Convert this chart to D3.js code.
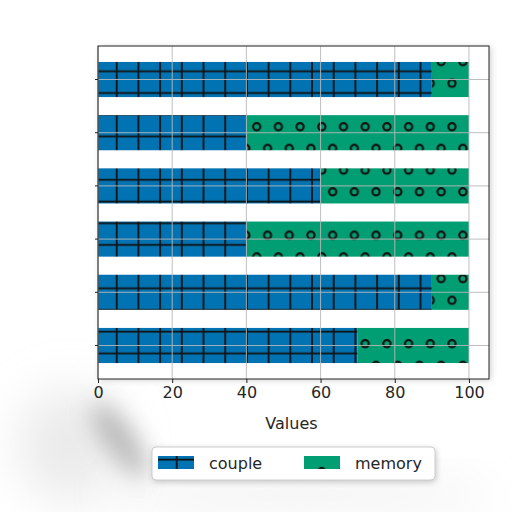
<!DOCTYPE html>
<html>
<head>
<meta charset="utf-8">
<script src="https://cdn.jsdelivr.net/npm/d3@7"></script>
<style>
  body { margin: 0; background: #fff; }
  svg { display: block; font-family: "DejaVu Sans", sans-serif; }
</style>
</head>
<body>
<div id="chart"></div>
<script>
// data, listed top to bottom as drawn
var categories = ["r1", "r2", "r3", "r4", "r5", "r6"];
var yTickLabels = ["", "", "", "", "", ""];
var couple = [90, 40, 60, 40, 90, 70];
var memory = [10, 60, 40, 60, 10, 30];
var seriesNames = ["couple", "memory"];
var xTicks = [0, 20, 40, 60, 80, 100];

var svgWidth = 512, svgHeight = 512;
var margin = {top: 46, right: 23, bottom: 133, left: 98};
var width = svgWidth - margin.left - margin.right;
var height = svgHeight - margin.top - margin.bottom;

var colour = d3.scaleOrdinal().domain(seriesNames).range(["#0173B2", "#029E73"]);

var svg = d3.select("#chart").append("svg")
    .attr("width", svgWidth).attr("height", svgHeight);

var defs = svg.append("defs");

// soft smudges / shadows seen in the picture
var blur = defs.append("filter").attr("id", "blur")
    .attr("x", "-80%").attr("y", "-80%").attr("width", "260%").attr("height", "260%");
blur.append("feGaussianBlur").attr("stdDeviation", 12);
var blurWide = defs.append("filter").attr("id", "blurWide")
    .attr("x", "-80%").attr("y", "-80%").attr("width", "260%").attr("height", "260%");
blurWide.append("feGaussianBlur").attr("stdDeviation", 25);
var blurSmall = defs.append("filter").attr("id", "blurSmall")
    .attr("x", "-20%").attr("y", "-50%").attr("width", "140%").attr("height", "200%");
blurSmall.append("feGaussianBlur").attr("stdDeviation", 3);

svg.append("ellipse").attr("cx", 70).attr("cy", 445).attr("rx", 50).attr("ry", 55)
    .attr("fill", "#d4d4d4").attr("opacity", 0.5).attr("filter", "url(#blurWide)");
svg.append("ellipse").attr("cx", 300).attr("cy", 495).attr("rx", 200).attr("ry", 14)
    .attr("fill", "#d8d8d8").attr("opacity", 0.45).attr("filter", "url(#blurWide)");
svg.append("ellipse")
    .attr("transform", "translate(120 440) rotate(55)")
    .attr("rx", 45).attr("ry", 14)
    .attr("fill", "#8a8a8a").attr("opacity", 0.6).attr("filter", "url(#blur)");

// hatch patterns (coordinates in the plot group's space)
var step = 21.7;
var plus = defs.append("pattern").attr("id", "hatch-couple")
    .attr("patternUnits", "userSpaceOnUse")
    .attr("width", step).attr("height", step);
plus.append("rect").attr("width", step).attr("height", step).attr("fill", colour("couple"));
plus.append("line").attr("x1", 18.7).attr("x2", 18.7).attr("y1", 0).attr("y2", step)
    .attr("stroke", "#111").attr("stroke-width", 1.8);
plus.append("line").attr("x1", 0).attr("x2", step).attr("y1", 3.6).attr("y2", 3.6)
    .attr("stroke", "#111").attr("stroke-width", 1.8);

var ring = defs.append("pattern").attr("id", "hatch-memory")
    .attr("patternUnits", "userSpaceOnUse")
    .attr("width", step).attr("height", step * 2);
ring.append("rect").attr("width", step).attr("height", step * 2).attr("fill", colour("memory"));
[[6.8, 37.3], [17.65, 15.6]].forEach(function(p) {
    [-step, 0, step].forEach(function(dx) {
        [-2 * step, 0, 2 * step].forEach(function(dy) {
            ring.append("circle").attr("cx", p[0] + dx).attr("cy", p[1] + dy).attr("r", 3.6)
                .attr("fill", "none").attr("stroke", "#111").attr("stroke-width", 2.2);
        });
    });
});

// axes shadow
svg.append("rect")
    .attr("x", margin.left + 2).attr("y", margin.top + 1)
    .attr("width", width).attr("height", height)
    .attr("fill", "#bbb").attr("filter", "url(#blurSmall)").attr("opacity", 0.7);

var g = svg.append("g")
    .attr("transform", "translate(" + margin.left + " " + margin.top + ")");

g.append("rect").attr("width", width).attr("height", height).attr("fill", "#fff");

// scales
var x = d3.scaleLinear().domain([0, 105.4]).range([0, width]);
var y = d3.scaleBand().domain(categories).range([0, height])
    .paddingInner(0.34).paddingOuter(0.3);

// stacked bars
var rows = categories.map(function(c, i) {
    return {cat: c, couple: couple[i], memory: memory[i]};
});
var stacked = d3.stack().keys(seriesNames)(rows);

g.append("g").selectAll("g")
    .data(stacked)
    .enter().append("g")
        .attr("fill", function(d) { return "url(#hatch-" + d.key + ")"; })
        .selectAll("rect")
        .data(function(d) { return d; })
        .enter().append("rect")
            .attr("x", function(d) { return x(d[0]); })
            .attr("y", function(d) { return y(d.data.cat); })
            .attr("width", function(d) { return x(d[1]) - x(d[0]); })
            .attr("height", y.bandwidth());

// grid on top of bars
var grid = g.append("g").attr("stroke", "#b8b8b8").attr("stroke-width", 1).attr("opacity", 0.9);
grid.selectAll(".vg").data(xTicks).enter().append("line")
    .attr("x1", function(d) { return x(d); }).attr("x2", function(d) { return x(d); })
    .attr("y1", 0).attr("y2", height);
grid.selectAll(".hg").data(categories).enter().append("line")
    .attr("x1", 0).attr("x2", width)
    .attr("y1", function(d) { return y(d) + y.bandwidth() / 2; })
    .attr("y2", function(d) { return y(d) + y.bandwidth() / 2; });

// frame
g.append("rect").attr("width", width).attr("height", height)
    .attr("fill", "none").attr("stroke", "#222").attr("stroke-width", 1);

// axes
var xAxis = g.append("g")
    .attr("transform", "translate(0 " + height + ")")
    .call(d3.axisBottom(x).tickValues(xTicks).tickSize(4).tickPadding(4));
var yAxis = g.append("g")
    .call(d3.axisLeft(y).tickFormat(function(d, i) { return yTickLabels[i]; }).tickSize(3));
[xAxis, yAxis].forEach(function(a) {
    a.select(".domain").remove();
    a.selectAll("line").attr("stroke", "#222");
    a.selectAll("text").attr("font-size", "16px").attr("fill", "#262626")
        .attr("font-family", "DejaVu Sans, sans-serif");
});

g.append("text")
    .attr("x", width / 2 - 2).attr("y", height + 50)
    .attr("text-anchor", "middle")
    .attr("font-size", "16px").attr("fill", "#262626")
    .text("Values");

// legend
var legend = svg.append("g").attr("transform", "translate(152 447)");
legend.append("rect").attr("x", 1).attr("y", 2).attr("width", 283).attr("height", 33).attr("rx", 4)
    .attr("fill", "#aaa").attr("filter", "url(#blurSmall)").attr("opacity", 0.7);
legend.append("rect").attr("width", 283).attr("height", 33).attr("rx", 4)
    .attr("fill", "#fff").attr("stroke", "#ccc");
var items = legend.selectAll(".item").data(seriesNames).enter().append("g")
    .attr("transform", function(d, i) { return "translate(" + (6 + i * 146) + " 9)"; });
items.append("rect").attr("width", 36).attr("height", 13)
    .attr("fill", function(d) { return "url(#hatch-" + d + ")"; });
items.append("text").attr("x", 51).attr("y", 12.5)
    .attr("font-size", "16px").attr("fill", "#262626")
    .text(function(d) { return d; });
</script>
</body>
</html>
